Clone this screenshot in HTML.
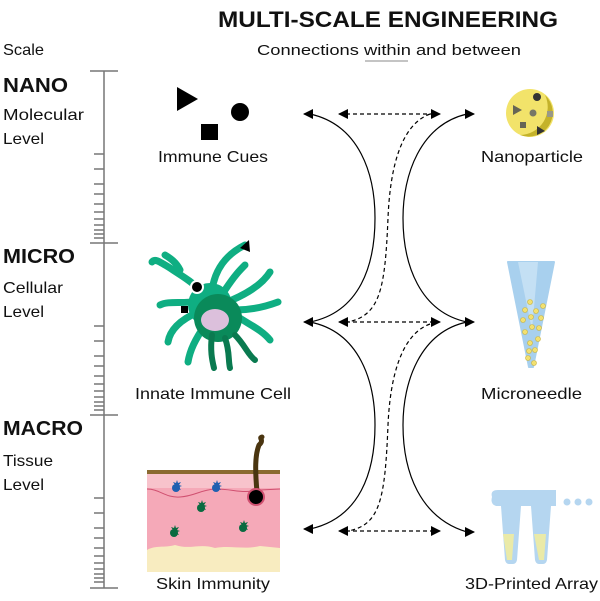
<!DOCTYPE html>
<html><head><meta charset="utf-8"><style>
html,body{margin:0;padding:0;background:#fff;width:600px;height:601px;overflow:hidden}
svg text{font-family:"Liberation Sans",sans-serif;fill:#111}
</style></head><body>
<svg width="600" height="601" viewBox="0 0 600 601" xmlns="http://www.w3.org/2000/svg">
<defs>
<marker id="ah" viewBox="0 0 10 10" refX="9" refY="5" markerWidth="10" markerHeight="10" markerUnits="userSpaceOnUse" orient="auto"><path d="M0,0L10,5L0,10z" fill="#000"/></marker>
<g id="cell"><path d="M0,-5 l1,-3 1,3 3,-1 -2,3 3,1 -3,1 2,3 -3,-1 -1,3 -1,-3 -3,1 2,-3 -3,-1 3,-1 -2,-3z" /><circle r="4"/></g>
</defs>
<text x="218" y="27" font-size="22" font-weight="bold" textLength="340" lengthAdjust="spacingAndGlyphs">MULTI-SCALE ENGINEERING</text>
<text x="257" y="55" font-size="15" textLength="264" lengthAdjust="spacingAndGlyphs">Connections within and between</text>
<line x1="365" y1="61" x2="408" y2="61" stroke="#888" stroke-width="1"/>
<text x="3" y="55" font-size="16" textLength="41" lengthAdjust="spacingAndGlyphs">Scale</text>
<text x="3" y="92" font-size="20" font-weight="bold" textLength="65" lengthAdjust="spacingAndGlyphs">NANO</text>
<text x="3" y="120" font-size="16" textLength="81" lengthAdjust="spacingAndGlyphs">Molecular</text>
<text x="3" y="144" font-size="16" textLength="41" lengthAdjust="spacingAndGlyphs">Level</text>
<text x="3" y="263" font-size="20" font-weight="bold" textLength="72" lengthAdjust="spacingAndGlyphs">MICRO</text>
<text x="3" y="293" font-size="16" textLength="60" lengthAdjust="spacingAndGlyphs">Cellular</text>
<text x="3" y="317" font-size="16" textLength="41" lengthAdjust="spacingAndGlyphs">Level</text>
<text x="3" y="435" font-size="20" font-weight="bold" textLength="80" lengthAdjust="spacingAndGlyphs">MACRO</text>
<text x="3" y="466" font-size="16" textLength="50" lengthAdjust="spacingAndGlyphs">Tissue</text>
<text x="3" y="490" font-size="16" textLength="41" lengthAdjust="spacingAndGlyphs">Level</text>
<g stroke="#777" stroke-width="1.5">
<line x1="104" y1="71" x2="104" y2="588"/>
<line x1="90" y1="71" x2="118" y2="71"/><line x1="90" y1="243" x2="118" y2="243"/><line x1="90" y1="415" x2="118" y2="415"/><line x1="90" y1="588" x2="118" y2="588"/>
<path d="M94,154H104M94,169H104M94,184H104M94,194H104M94,204H104M94,212H104M94,219H104M94,225H104M94,230H104M94,234H104M94,238H104
M94,326H104M94,341H104M94,356H104M94,366H104M94,376H104M94,384H104M94,391H104M94,397H104M94,402H104M94,406H104M94,410H104
M94,498H104M94,513H104M94,528H104M94,538H104M94,548H104M94,556H104M94,563H104M94,569H104M94,574H104M94,578H104M94,582H104"/>
</g>
<path d="M177,87L198,99L177,111z" fill="#000"/>
<circle cx="240" cy="112" r="9" fill="#000"/>
<rect x="201" y="124" width="17" height="16" fill="#000"/>
<text x="158" y="162" font-size="16" textLength="110" lengthAdjust="spacingAndGlyphs">Immune Cues</text>
<g stroke="#0fae82" stroke-width="7" stroke-linecap="round" fill="none">
<path d="M212,290 C215,270 225,255 245,245"/>
<path d="M200,290 C190,280 180,275 170,268 C160,262 155,258 152,262"/>
<path d="M200,300 C185,305 170,300 160,305"/>
<path d="M198,312 C180,320 170,330 168,342"/>
<path d="M205,325 C195,340 190,350 188,362"/>
<path d="M225,290 C235,275 240,270 245,265"/>
<path d="M232,300 C255,290 265,280 270,272"/>
<path d="M235,310 C255,310 270,305 278,302"/>
<path d="M235,315 C250,325 262,330 270,340"/>
<path d="M180,270 C176,262 170,258 165,255"/>
</g>
<circle cx="210" cy="305" r="22" fill="#0fae82"/>
<circle cx="218" cy="318" r="24" fill="#0a8a5a"/>
<g stroke="#0a7a50" stroke-width="6" stroke-linecap="round" fill="none">
<path d="M212,335 C210,350 212,360 214,368"/>
<path d="M225,338 C230,352 228,360 230,368"/>
<path d="M235,335 C245,345 248,355 255,360"/>
</g>
<ellipse cx="215" cy="320" rx="14" ry="11" fill="#dcc0dc"/>
<circle cx="197" cy="287" r="6" fill="#000" stroke="#fff" stroke-width="2"/>
<rect x="181" y="306" width="7" height="7" fill="#000"/>
<path d="M240,248L249,240L250,252z" fill="#000"/>
<text x="135" y="399" font-size="16" textLength="156" lengthAdjust="spacingAndGlyphs">Innate Immune Cell</text>
<rect x="147" y="470" width="133" height="100" fill="#f5a9b8"/>
<rect x="147" y="470" width="133" height="4" fill="#8a6a30"/>
<rect x="147" y="474" width="133" height="14" fill="#f8c3cc"/>
<path d="M147,489 C160,489 165,498 180,497 C195,496 200,490 215,489 C235,489 240,494 260,490 L280,489" stroke="#d05070" fill="none" stroke-width="1"/>
<path d="M147,550 C155,545 165,548 175,545 C190,550 200,543 215,548 C230,545 245,550 260,546 L280,548 L280,572 L147,572z" fill="#f8ecc0"/>
<path d="M259,445 C265,440 258,438 262,437 M259,445 C255,455 255,470 257,492" stroke="#4a3510" stroke-width="5" fill="none" stroke-linecap="round"/>
<circle cx="256" cy="497" r="8" fill="#000" stroke="#d05070" stroke-width="2"/>
<use href="#cell" x="176" y="488" fill="#2060b0"/>
<use href="#cell" x="216" y="488" fill="#2060b0"/>
<use href="#cell" x="201" y="508" fill="#0a6a40"/>
<use href="#cell" x="174" y="533" fill="#0a6a40"/>
<use href="#cell" x="243" y="528" fill="#0a6a40"/>
<text x="156" y="589" font-size="16" textLength="114" lengthAdjust="spacingAndGlyphs">Skin Immunity</text>
<g stroke="#000" stroke-width="1.2" fill="none">
<path d="M310,114 C360,125 375,175 375,218 C375,265 360,312 310,322"/>
<path d="M310,322 C360,332 375,382 375,425 C375,472 360,518 310,529"/>
<path d="M467,114 C420,125 403,175 403,218 C403,265 420,312 467,322"/>
<path d="M467,322 C420,332 403,382 403,425 C403,472 420,518 467,532"/>
<path d="M312,114 L304,114" marker-end="url(#ah)"/>
<path d="M312,322 L304,322" marker-end="url(#ah)"/>
<path d="M312,529 L304,529" marker-end="url(#ah)"/>
<path d="M465,114 L474,114" marker-end="url(#ah)"/>
<path d="M465,322 L474,322" marker-end="url(#ah)"/>
<path d="M465,532 L474,532" marker-end="url(#ah)"/>
<g stroke-dasharray="4,3">
<path d="M346,114H432"/><path d="M346,322H432"/><path d="M346,531H432"/>
<path d="M430,114 C400,125 390,170 388,218 C385,290 380,315 348,322"/>
<path d="M430,324 C400,335 390,380 388,425 C385,500 380,525 348,531"/>
</g>
<path d="M346,114L339,114" marker-end="url(#ah)"/>
<path d="M346,322L339,322" marker-end="url(#ah)"/>
<path d="M346,531L339,531" marker-end="url(#ah)"/>
<path d="M432,114L440,114" marker-end="url(#ah)"/>
<path d="M432,322L440,322" marker-end="url(#ah)"/>
<path d="M432,531L440,531" marker-end="url(#ah)"/>
</g>
<circle cx="530" cy="113" r="24" fill="#f2e36a"/>
<path d="M545,95 A24,24 0 0 1 520,135 A28,28 0 0 0 545,95z" fill="#c4b22a"/>
<circle cx="537" cy="97" r="4" fill="#333"/><circle cx="533" cy="113" r="3.5" fill="#776"/>
<path d="M513,105L522,110L513,115z" fill="#665"/><rect x="520" y="122" width="6" height="6" fill="#665"/>
<rect x="547" y="111" width="6" height="6" fill="#998"/><path d="M537,126L545,131L537,135z" fill="#333"/>
<text x="481" y="162" font-size="16" textLength="102" lengthAdjust="spacingAndGlyphs">Nanoparticle</text>
<path d="M508,262 L554,262 L533,367 L529,367z" fill="#a8d0ee" stroke="#a8d0ee" stroke-width="2" stroke-linejoin="round"/>
<path d="M518,262L538,262L532,330z" fill="#c4e0f4"/>
<g fill="#f2e070" stroke="#c8b440" stroke-width="0.6">
<circle cx="530" cy="302" r="2.5"/><circle cx="543" cy="306" r="2.5"/><circle cx="525" cy="310" r="2.5"/><circle cx="536" cy="311" r="2.5"/>
<circle cx="531" cy="317" r="2.5"/><circle cx="541" cy="318" r="2.5"/><circle cx="523" cy="320" r="2.5"/><circle cx="532" cy="327" r="2.5"/>
<circle cx="539" cy="328" r="2.5"/><circle cx="525" cy="332" r="2.5"/><circle cx="538" cy="339" r="2.5"/><circle cx="530" cy="343" r="2.5"/>
<circle cx="529" cy="351" r="2.5"/><circle cx="535" cy="350" r="2.5"/><circle cx="528" cy="358" r="2.5"/><circle cx="534" cy="363" r="2.5"/>
</g>
<text x="481" y="399" font-size="16" textLength="101" lengthAdjust="spacingAndGlyphs">Microneedle</text>
<path d="M492,497 Q490,490 498,490 L556,490 L556,506 L551,506 L547,560 Q546,564 543,564 L539,564 Q536,564 535,560 L531,506 L521,506 L517,560 Q516,564 513,564 L509,564 Q506,564 505,560 L501,506 L496,506 Q490,504 492,497z" fill="#b5d6f0"/>
<path d="M503,534 L514,534 L512,560 L507,560z M534,534 L546,534 L544,560 L539,560z" fill="#eaeaa8"/>
<circle cx="567" cy="502" r="3.5" fill="#b5d6f0"/><circle cx="578" cy="502" r="3.5" fill="#b5d6f0"/><circle cx="589" cy="502" r="3.5" fill="#b5d6f0"/>
<text x="465" y="589" font-size="16" textLength="133" lengthAdjust="spacingAndGlyphs">3D-Printed Array</text>
</svg>
</body></html>
